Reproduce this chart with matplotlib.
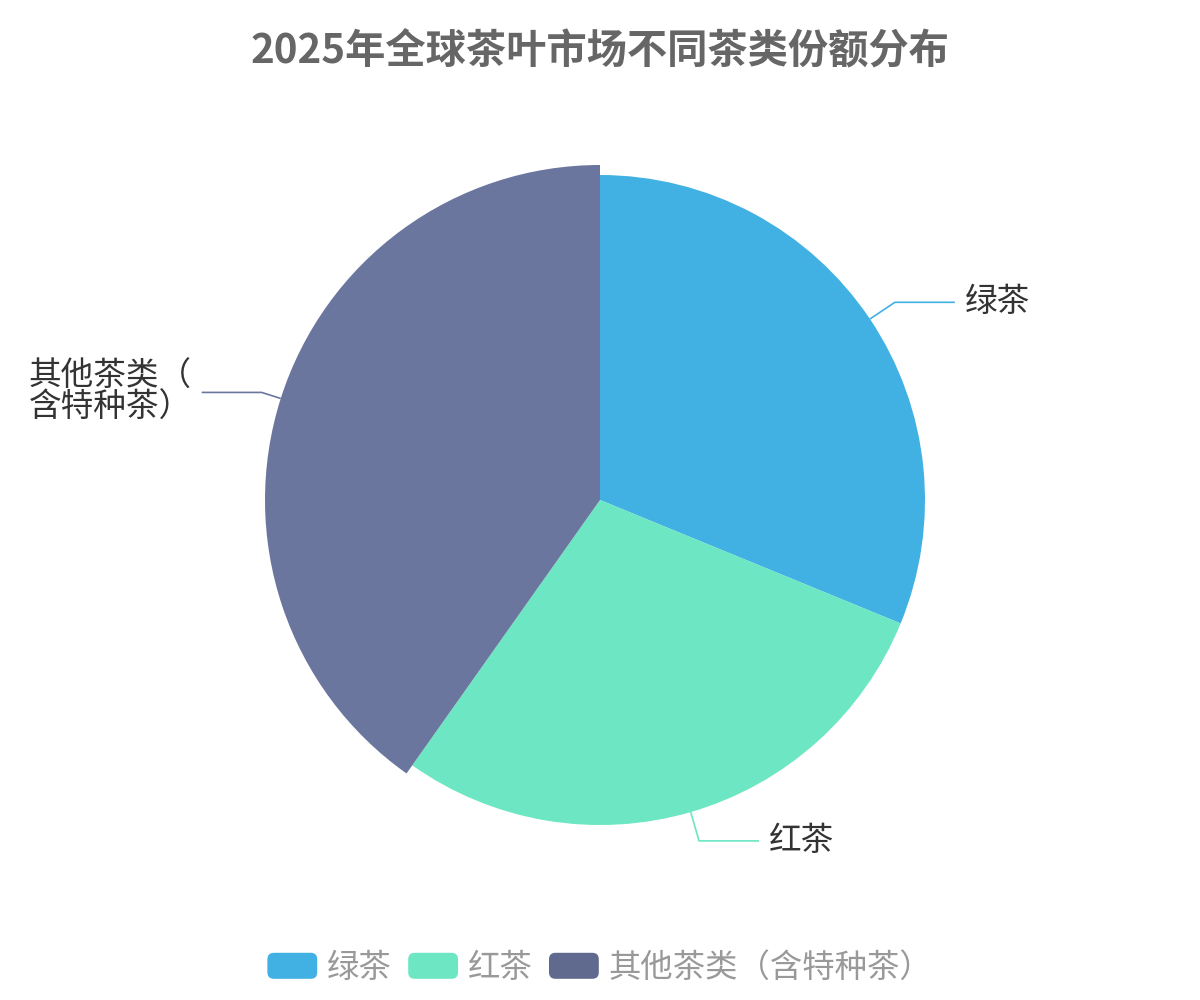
import matplotlib
matplotlib.use('Agg')
import matplotlib.pyplot as plt
from matplotlib.patches import FancyBboxPatch, Patch
from matplotlib.legend_handler import HandlerPatch
import numpy as np

plt.rcParams['font.family'] = ['Noto Sans CJK SC', 'DejaVu Sans']

title = '2025年全球茶叶市场不同茶类份额分布'
categories = ['绿茶', '红茶', '其他茶类（含特种茶）']
shares = [31.2, 28.6, 40.2]
colors = ['#41b0e2', '#6ce6c3', '#5f6a8e']
highlight_index = 2
highlight_color = '#6b769e'

fig = plt.figure(figsize=(12, 10), dpi=100)
ax = fig.add_axes([0, 0, 1, 1])

R = 325
cx, cy = 600, 500
wedges, _ = ax.pie(shares, colors=colors, radius=R, center=(cx, cy), startangle=90,
                   counterclock=False, wedgeprops=dict(linewidth=0, antialiased=True))
ax.set_xlim(0, 1200)
ax.set_ylim(0, 1000)
ax.set_aspect('equal')
ax.axis('off')

# emphasised slice
wedges[highlight_index].set_radius(R + 10)
wedges[highlight_index].set_facecolor(highlight_color)


def wrap(s, n=5):
    return '\n'.join(s[i:i + n] for i in range(0, len(s), n))


for w, name in zip(wedges, categories):
    mid = np.deg2rad((w.theta1 + w.theta2) / 2)
    c, s = np.cos(mid), np.sin(mid)
    p1 = (cx + w.r * c, cy + w.r * s)
    p2 = (cx + (R + 30) * c, cy + (R + 30) * s)
    sign = 1 if c >= 0 else -1
    p3 = (p2[0] + sign * 60, p2[1])
    ax.plot([p1[0], p2[0], p3[0]], [p1[1], p2[1], p3[1]], color=w.get_facecolor(),
            lw=1.2, solid_capstyle='butt')
    ax.text(p3[0] + sign * 10, p3[1], wrap(name), ha='left' if sign > 0 else 'right',
            va='center', fontsize=23.5, color='#333333', multialignment='left',
            linespacing=0.97)

fig.text(0.5, 1 - 52 / 1000, title, ha='center', va='center', fontsize=29,
         fontweight='bold', color='#666666')


class RoundHandler(HandlerPatch):
    def create_artists(self, legend, orig_handle, xdescent, ydescent, width, height,
                       fontsize, trans):
        p = FancyBboxPatch((-xdescent, -ydescent), width, height,
                           boxstyle=f"round,pad=0,rounding_size={height * 0.25}",
                           facecolor=orig_handle.get_facecolor(), edgecolor='none',
                           transform=trans)
        return [p]


handles = [Patch(facecolor=col) for col in colors]
fig.legend(handles, categories, loc='center', bbox_to_anchor=(600 / 1200, 1 - 968 / 1000),
           ncol=3, frameon=False, fontsize=23.3, handlelength=1.54, handleheight=0.86,
           handletextpad=0.31, columnspacing=0.5, borderpad=0, labelcolor='#999999',
           handler_map={Patch: RoundHandler()})

fig.savefig('out.png', dpi=100)
